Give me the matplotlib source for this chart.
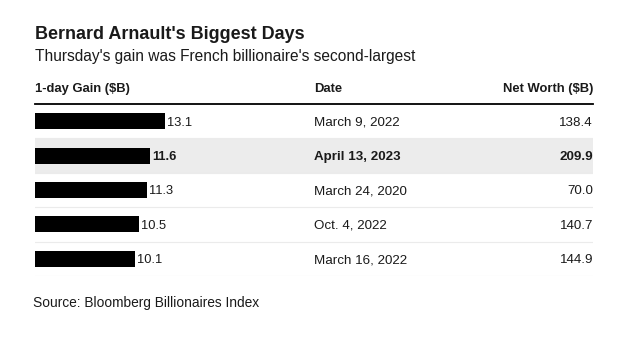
import matplotlib
matplotlib.use("Agg")
import matplotlib.pyplot as plt
import matplotlib.transforms as mtransforms

gains = [13.1, 11.6, 11.3, 10.5, 10.1]
dates = ["March 9, 2022", "April 13, 2023", "March 24, 2020", "Oct. 4, 2022", "March 16, 2022"]
net_worth = [138.4, 209.9, 70.0, 140.7, 144.9]
highlight = [False, True, False, False, False]
headers = ["1-day Gain ($B)", "Date", "Net Worth ($B)"]
title = "Bernard Arnault's Biggest Days"
subtitle = "Thursday's gain was French billionaire's second-largest"
source = "Source: Bloomberg Billionaires Index"

plt.rcParams['font.family'] = ['Liberation Sans', 'DejaVu Sans']
W, H = 625, 342
fig = plt.figure(figsize=(W / 100, H / 100), dpi=100)

def fx(px):
    return px / W

def fy(py):
    return 1 - py / H

left, right, top, bottom = 35, 593, 104, 276
ax = fig.add_axes([fx(left), fy(bottom), fx(right - left), (bottom - top) / H])
n = len(gains)
ax.set_xlim(0, (right - left) / 9.93)
ax.set_ylim(n - 0.5, -0.5)
ax.axis('off')

TXT = '#1a1a1a'
for i in range(n):
    if highlight[i]:
        ax.axhspan(i - 0.5, i + 0.5, color='#ececec', zorder=0, lw=0)
for i in range(1, n + 1):
    ax.axhline(i - 0.5, color='#ebebeb', lw=0.8, zorder=1)
ax.axhline(-0.5, color='black', lw=1.3, zorder=3, clip_on=False)

bars = ax.barh(range(n), gains, height=0.47, color='black', zorder=2)
off = mtransforms.offset_copy(ax.transData, fig=fig, x=2, y=-4.5, units='dots')
for i, g in enumerate(gains):
    w = 'bold' if highlight[i] else 'normal'
    ax.text(g, i, f"{g:.1f}", transform=off, ha='left', va='baseline', fontsize=9.3,
            color=TXT, fontweight=w)

blend = mtransforms.offset_copy(
    mtransforms.blended_transform_factory(ax.transAxes, ax.transData),
    fig=fig, x=0, y=-4.5, units='dots')
for i in range(n):
    w = 'bold' if highlight[i] else 'normal'
    ax.text(0.5, i, dates[i], transform=blend, ha='left', va='baseline',
            fontsize=9.6, color=TXT, fontweight=w)
    ax.text(1.0, i, f"{net_worth[i]:.1f}", transform=blend, ha='right', va='baseline',
            fontsize=9.6, color=TXT, fontweight=w)

fig.text(fx(35), fy(39), title, fontsize=13.0, fontweight='bold', color=TXT, va='baseline')
fig.text(fx(35), fy(61), subtitle, fontsize=11.2, color=TXT, va='baseline')
fig.text(fx(35), fy(92), headers[0], fontsize=9.4, fontweight='bold', color=TXT, va='baseline')
fig.text(fx(314), fy(92), headers[1], fontsize=9.4, fontweight='bold', color=TXT, va='baseline')
fig.text(fx(593), fy(92), headers[2], fontsize=9.4, fontweight='bold', color=TXT, va='baseline', ha='right')
fig.text(fx(33), fy(307), source, fontsize=9.9, color=TXT, va='baseline')

fig.savefig('out.png', dpi=100)
